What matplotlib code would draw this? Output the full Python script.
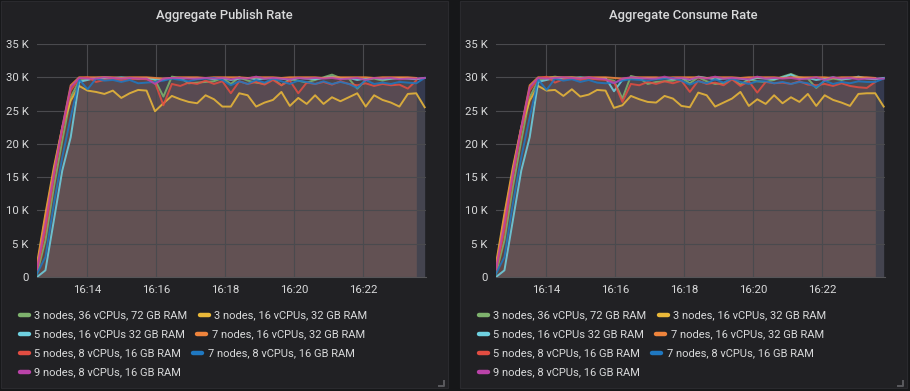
import numpy as np
import matplotlib
matplotlib.use("Agg")
import matplotlib.pyplot as plt
from matplotlib.patches import Rectangle
from matplotlib.lines import Line2D

nan = np.nan
W, H = 910, 391

# ---------------- data ----------------
# sample times, minutes after 16:00 (about 15 s apart)
time_min = np.round(12.56 + 0.244 * np.arange(47), 3)

xtick_pos = [14, 16, 18, 20, 22]
xtick_labels = ["16:14", "16:16", "16:18", "16:20", "16:22"]
ytick_pos = [0, 5, 10, 15, 20, 25, 30, 35]          # thousands of msg/s
ytick_labels = ["0", "5 K", "10 K", "15 K", "20 K", "25 K", "30 K", "35 K"]

series_names = [
    "3 nodes, 36 vCPUs, 72 GB RAM",
    "3 nodes, 16 vCPUs, 32 GB RAM",
    "5 nodes, 16 vCPUs 32 GB RAM",
    "7 nodes, 16 vCPUs, 32 GB RAM",
    "5 nodes, 8 vCPUs, 16 GB RAM",
    "7 nodes, 8 vCPUs, 16 GB RAM",
    "9 nodes, 8 vCPUs, 16 GB RAM",
]
series_colors = ["#7EB26D", "#EAB839", "#6ED0E0", "#EF843C", "#E24D42", "#1F78C1", "#BA43A9"]

# ---- Aggregate Publish Rate (K msg/s) ----
pub_green = [0.5, 5.5, 13.5, 20.5, 27.0,
             29.5, 29.8, 29.9, 30.0, 29.9, 29.8, 29.9, 29.8, 29.8, 29.6,
             27.1, 30.1, 29.9, 29.1, 29.2, 29.3, 29.4, 29.9, 29.0, 30.0,
             29.5, 29.2, 29.0, 29.8, 28.8, 29.7, 29.5, 29.2, 29.6, 30.0,
             30.4, 29.9, 29.8, 28.3, 29.6, 29.8, 29.5, 29.8, 29.9, 29.9,
             29.8, nan]
pub_yellow = [2.0, 9.5, 16.5, 22.5, 26.5,
              28.7, 28.0, 27.8, 27.5, 28.0, 26.9, 27.6, 28.1, 28.0, 24.9,
              26.1, 27.2, 26.7, 26.3, 26.1, 27.3, 26.7, 25.6, 25.6, 27.6,
              27.3, 25.6, 26.2, 26.6, 27.8, 25.7, 26.9, 26.0, 27.3, 26.0,
              27.0, 26.4, 27.0, 27.6, 25.6, 27.3, 26.6, 26.2, 25.6, 27.5,
              27.6, 25.5]
pub_cyan = [0.0, 1.0, 8.5, 16.0, 21.0,
            29.3, 29.6, 29.9, 29.8, 29.9, 30.0, 29.9, 29.8, 29.9, 29.7,
            29.6, 29.9, 29.8, 29.9, 29.8, 29.9, 29.7, 29.9, 29.6, 29.8,
            29.9, 29.7, 29.8, 29.9, 29.8, 29.6, 29.9, 29.8, 29.7, 29.9,
            30.1, 29.8, 29.9, 29.6, 29.8, 29.9, 29.7, 29.8, 29.9, 29.8,
            29.7, 29.9]
pub_orange = [1.5, 9.0, 16.0, 22.5, 28.8,
              30.0, 30.0, 30.0, 30.0, 30.0, 29.9, 30.0, 30.0, 30.0, 29.9,
              29.8, 29.9, 30.0, 30.0, 30.0, 29.9, 30.0, 30.0, 30.0, 30.0,
              29.9, 30.0, 30.0, 30.0, 29.9, 30.0, 30.0, 30.0, 30.0, 29.9,
              30.0, 30.0, 30.0, 30.0, 30.0, 29.9, 30.0, 30.0, 30.0, 30.0,
              29.9, nan]
pub_red = [1.0, 7.0, 15.0, 22.0, 28.0,
           29.8, 30.0, 29.3, 29.6, 29.8, 29.5, 29.7, 29.8, 29.7, 29.2,
           25.8, 29.0, 28.7, 29.2, 29.0, 29.5, 29.0, 29.4, 27.6, 29.4,
           29.0, 29.3, 28.9, 29.6, 28.8, 29.5, 27.6, 29.2, 29.0, 29.3,
           28.9, 29.4, 29.0, 28.8, 29.1, 28.7, 29.0, 28.8, 28.9, 28.3,
           29.5, nan]
pub_blue = [0.5, 3.0, 11.0, 18.0, 24.0,
            29.7, 28.2, 29.8, 29.5, 29.6, 29.3, 29.6, 29.1, 29.2, 29.3,
            29.5, 29.8, 29.6, 29.4, 29.7, 29.8, 29.9, 29.6, 28.8, 29.4,
            29.0, 29.6, 29.2, 29.8, 29.4, 29.0, 29.5, 29.3, 29.0, 29.4,
            29.0, 29.3, 29.0, 28.4, 29.6, 29.0, 29.2, 29.0, 29.3, 29.2,
            29.1, 29.9]
pub_purple = [1.2, 8.0, 15.5, 22.5, 28.5,
              29.9, 29.8, 29.8, 30.0, 29.9, 29.8, 29.9, 29.8, 29.8, 29.0,
              29.8, 29.9, 29.9, 29.8, 29.8, 29.9, 29.8, 29.9, 29.7, 29.9,
              29.8, 30.1, 29.8, 29.9, 29.8, 29.7, 29.9, 29.8, 29.9, 29.8,
              29.9, 29.7, 29.8, 29.9, 29.6, 29.9, 29.8, 29.9, 29.7, 29.8,
              29.8, 29.9]

# ---- Aggregate Consume Rate (K msg/s) ----
con_green = [0.5, 5.5, 13.5, 20.5, 27.0,
             29.5, 29.9, 30.1, 29.9, 30.0, 29.8, 29.9, 29.8, 29.7, 29.5,
             26.8, 30.2, 29.9, 29.0, 29.3, 29.4, 29.5, 29.9, 29.1, 30.0,
             29.4, 29.0, 29.1, 29.8, 28.9, 29.7, 29.4, 29.3, 29.6, 30.1,
             30.5, 30.0, 29.8, 28.4, 29.5, 29.8, 29.6, 29.9, 30.0, 29.9,
             29.8, nan]
con_yellow = [2.0, 9.5, 16.5, 22.5, 26.5,
              28.7, 28.0, 28.1, 27.2, 28.2, 27.1, 27.4, 28.1, 28.0, 25.4,
              25.8, 27.2, 26.7, 26.3, 26.2, 27.2, 26.8, 25.7, 25.5, 27.7,
              27.3, 25.6, 26.2, 26.8, 27.8, 25.7, 26.7, 26.0, 27.3, 26.1,
              27.0, 26.3, 27.5, 25.7, 27.3, 26.6, 26.2, 25.7, 27.5, 27.6,
              27.6, 25.6]
con_cyan = [0.0, 1.0, 8.5, 16.0, 21.0,
            29.3, 29.6, 29.9, 29.8, 29.9, 30.0, 29.9, 29.8, 29.9, 27.9,
            29.6, 29.9, 29.8, 29.9, 29.8, 29.9, 29.7, 29.9, 29.6, 30.1,
            29.9, 29.7, 29.8, 29.9, 29.8, 29.6, 29.9, 29.8, 29.7, 30.0,
            30.4, 29.8, 29.9, 29.6, 29.8, 30.0, 29.7, 29.8, 30.1, 29.8,
            29.7, 29.9]
con_orange = [1.5, 9.0, 16.0, 22.5, 28.8,
              30.0, 30.0, 30.0, 30.0, 30.0, 29.9, 30.0, 30.0, 30.0, 29.9,
              29.8, 29.9, 30.0, 30.0, 30.0, 29.9, 30.0, 30.0, 30.0, 30.0,
              29.9, 30.0, 30.0, 30.0, 29.9, 30.0, 30.0, 30.0, 30.0, 29.9,
              30.0, 30.0, 30.0, 30.0, 30.0, 29.9, 30.0, 30.0, 30.0, 30.0,
              29.9, nan]
con_red = [1.0, 7.0, 15.0, 22.0, 28.0,
           29.8, 30.1, 29.2, 29.7, 29.8, 29.6, 29.8, 29.7, 29.6, 29.3,
           26.3, 29.0, 28.8, 29.3, 29.0, 29.4, 29.1, 29.5, 27.8, 29.5,
           29.0, 29.2, 28.8, 29.7, 28.7, 29.4, 27.7, 29.3, 29.1, 29.2,
           29.0, 29.4, 28.9, 28.8, 29.0, 28.7, 29.1, 28.7, 28.5, 28.4,
           29.3, nan]
con_blue = [0.5, 3.0, 11.0, 18.0, 24.0,
            29.7, 28.1, 29.8, 29.5, 29.7, 29.3, 29.6, 29.2, 29.1, 29.2,
            29.5, 29.7, 29.6, 29.5, 29.7, 29.8, 29.9, 29.5, 28.9, 29.4,
            29.1, 29.7, 29.2, 29.8, 29.3, 29.0, 29.4, 29.4, 29.1, 29.3,
            29.0, 29.3, 29.1, 28.5, 29.5, 29.0, 29.3, 29.1, 29.4, 29.3,
            29.3, 29.8]
con_purple = [1.2, 8.0, 15.5, 22.5, 28.5,
              29.9, 29.8, 29.9, 30.0, 29.9, 29.8, 30.0, 29.8, 29.7, 29.1,
              29.8, 30.0, 29.9, 29.8, 29.8, 30.1, 29.8, 29.9, 29.7, 30.0,
              29.8, 30.1, 29.8, 29.9, 29.8, 29.7, 30.1, 29.8, 29.9, 29.8,
              29.9, 29.7, 29.8, 30.0, 29.6, 30.0, 29.8, 29.9, 29.7, 29.8,
              29.8, 29.8]

panels = [
    ("Aggregate Publish Rate",
     [pub_green, pub_yellow, pub_cyan, pub_orange, pub_red, pub_blue, pub_purple]),
    ("Aggregate Consume Rate",
     [con_green, con_yellow, con_cyan, con_orange, con_red, con_blue, con_purple]),
]

# ---------------- style ----------------
PAGE_BG = "#161719"
PANEL_BG = "#212124"
PANEL_EDGE = "#2a2a2e"
TEXT = "#d8d9da"
GRID = "#4a4a4e"
FONT = ["Roboto", "DejaVu Sans"]
plt.rcParams["font.family"] = FONT


def fx(x):
    return x / W


def fy(y):
    return 1 - y / H


fig = plt.figure(figsize=(W / 100, H / 100), dpi=100, facecolor=PAGE_BG)
renderer = fig.canvas.get_renderer()

panel_x0 = [1, 460]
panel_w = 447
for p, (title, data) in enumerate(panels):
    ox = panel_x0[p]
    # panel background
    fig.patches.append(Rectangle((fx(ox), fy(388)), panel_w / W, (388 - 1) / H,
                                 transform=fig.transFigure, facecolor=PANEL_BG,
                                 edgecolor=PANEL_EDGE, linewidth=0.8, zorder=-5))
    # title
    fig.text(fx(ox + 223), fy(16), title, ha="center", va="center", color=TEXT,
             fontsize=9.4, fontweight="medium")

    # plot area
    left, right, top, bottom = ox + 36, ox + 425, 44, 277
    ax = fig.add_axes([fx(left), fy(bottom), (right - left) / W, (bottom - top) / H])
    ax.set_zorder(1)
    ax.set_facecolor("none")
    for i, vals in enumerate(data):
        v = np.array(vals, dtype=float)
        ax.fill_between(time_min, 0, v, color=series_colors[i], alpha=0.1,
                        linewidth=0, zorder=1)
    for i, vals in enumerate(data):
        ax.plot(time_min, vals, color=series_colors[i], lw=1.4, alpha=0.88, zorder=3)
    ax.set_xlim(time_min[0], time_min[0] + (right - left) / 34.54)
    ax.set_ylim(0, 35)
    ax.set_xticks(xtick_pos)
    ax.set_xticklabels(xtick_labels)
    ax.set_yticks(ytick_pos)
    ax.set_yticklabels(ytick_labels)
    ax.tick_params(length=0, colors=TEXT, labelsize=8.2, pad=6)
    ax.tick_params(axis="x", pad=6)
    for s in ["top", "right", "left"]:
        ax.spines[s].set_visible(False)
    ax.spines["bottom"].set_color("#555558")
    ax.spines["bottom"].set_linewidth(0.8)
    ax.grid(True, color=GRID, linewidth=0.8)
    ax.set_axisbelow(False)
    for gl in ax.get_xgridlines() + ax.get_ygridlines():
        gl.set_zorder(2)

    # legend (flow layout, two per row)
    row_y = [315, 334, 353, 372]
    for r in range(4):
        x = ox + 17
        for k in range(2):
            idx = r * 2 + k
            if idx >= len(series_names):
                break
            fig.add_artist(Line2D([fx(x + 1.5), fx(x + 10.5)], [fy(row_y[r])] * 2,
                                  transform=fig.transFigure, color=series_colors[idx],
                                  lw=3.2, solid_capstyle="round"))
            t = fig.text(fx(x + 16), fy(row_y[r]), series_names[idx], ha="left",
                         va="center", color=TEXT, fontsize=8.0)
            bb = t.get_window_extent(renderer)
            x = bb.x1 + 11

    # resize handle
    hx, hy = ox + panel_w - 4, 386
    fig.add_artist(Line2D([fx(hx), fx(hx), fx(hx - 5)], [fy(hy - 5), fy(hy), fy(hy)],
                          transform=fig.transFigure, color="#5a5a5e", lw=1.4))

fig.savefig("out.png", dpi=100, facecolor=PAGE_BG)
